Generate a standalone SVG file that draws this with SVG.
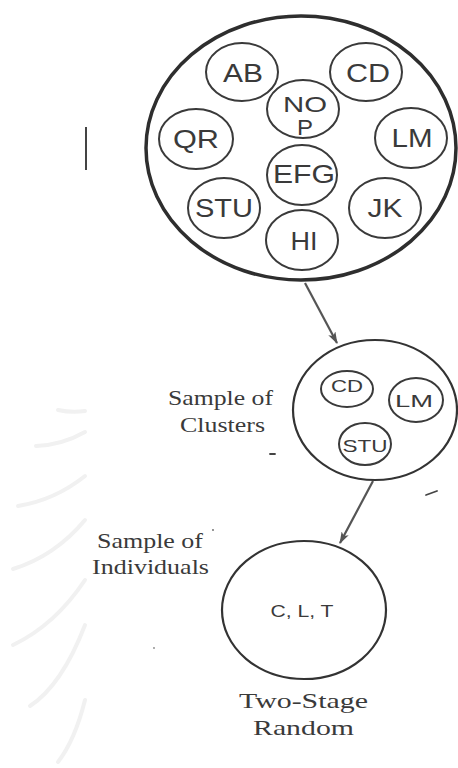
<svg xmlns="http://www.w3.org/2000/svg" width="458" height="768" viewBox="0 0 458 768">
<defs>
<style>
.bg{fill:#ffffff}
.wm{fill:none;stroke:#f1f1f1;stroke-width:4;stroke-linecap:round}
.outer{fill:none;stroke:#2e2e2e;stroke-width:3.5}
.cl{fill:none;stroke:#3a3a3a;stroke-width:2}
.big{fill:none;stroke:#333333;stroke-width:2.2}
.t{font-family:"Liberation Sans",Arial,sans-serif;fill:#3a3a3a;text-anchor:middle}
.t25{font-size:25px}
.t17{font-size:17px}
.s{font-family:"Liberation Serif","Times New Roman",serif;fill:#3a3a3a;font-size:22px}
.conn{fill:none;stroke:#555555;stroke-width:2.2}
.mark{fill:none;stroke:#444444;stroke-width:1.8;stroke-linecap:round}
</style>
<marker id="ah" viewBox="0 0 12 8" refX="11" refY="4" markerWidth="12" markerHeight="8" markerUnits="userSpaceOnUse" orient="auto">
<path d="M0,0 L12,4 L0,8 L3,4 Z" fill="#555555"/>
</marker>
</defs>
<rect class="bg" x="0" y="0" width="458" height="768"/>
<g id="watermark">
<path class="wm" d="M58,410 Q72,413 85,411"/>
<path class="wm" d="M36,446 Q62,445 85,432"/>
<path class="wm" d="M18,506 Q55,500 85,476"/>
<path class="wm" d="M13,569 Q55,556 85,520"/>
<path class="wm" d="M13,645 Q55,625 85,580"/>
<path class="wm" d="M30,706 Q62,685 85,625"/>
<path class="wm" d="M58,762 Q75,740 85,700"/>
</g>
<rect x="85" y="127" width="2" height="43" fill="#444444"/>
<g id="population">
<ellipse class="outer" cx="301" cy="148" rx="155" ry="132"/>
</g>
<g id="AB"><ellipse class="cl" cx="242" cy="72" rx="36" ry="29"/><text class="t t25" x="243" y="82" textLength="40" lengthAdjust="spacingAndGlyphs">AB</text></g>
<g id="CD"><ellipse class="cl" cx="366" cy="72" rx="36" ry="29"/><text class="t t25" x="368" y="82" textLength="44" lengthAdjust="spacingAndGlyphs">CD</text></g>
<g id="NOP"><ellipse class="cl" cx="303" cy="109" rx="36" ry="29"/><text class="t" font-size="22" x="305" y="112" textLength="44" lengthAdjust="spacingAndGlyphs">NO</text><text class="t" font-size="22" x="305" y="135" textLength="16" lengthAdjust="spacingAndGlyphs">P</text></g>
<g id="QR"><ellipse class="cl" cx="196" cy="139" rx="37" ry="30"/><text class="t t25" x="196" y="148" textLength="46" lengthAdjust="spacingAndGlyphs">QR</text></g>
<g id="LM"><ellipse class="cl" cx="411" cy="138" rx="36" ry="30"/><text class="t t25" x="412" y="147" textLength="41" lengthAdjust="spacingAndGlyphs">LM</text></g>
<g id="EFG"><ellipse class="cl" cx="302" cy="175" rx="35" ry="30"/><text class="t t25" x="304" y="183" textLength="62" lengthAdjust="spacingAndGlyphs">EFG</text></g>
<g id="STU"><ellipse class="cl" cx="224" cy="208" rx="36" ry="30"/><text class="t t25" x="224" y="217" textLength="58" lengthAdjust="spacingAndGlyphs">STU</text></g>
<g id="JK"><ellipse class="cl" cx="385" cy="208" rx="36" ry="30"/><text class="t t25" x="385" y="217" textLength="35" lengthAdjust="spacingAndGlyphs">JK</text></g>
<g id="HI"><ellipse class="cl" cx="302" cy="240" rx="36" ry="30"/><text class="t t25" x="304" y="250" textLength="27" lengthAdjust="spacingAndGlyphs">HI</text></g>
<g id="connectors">
<line class="conn" x1="305" y1="283" x2="337" y2="343" marker-end="url(#ah)"/>
<line class="conn" x1="373" y1="481" x2="340" y2="543" marker-end="url(#ah)"/>
</g>
<g id="clusters">
<ellipse class="big" cx="375" cy="410" rx="82" ry="70"/>
<ellipse class="cl" cx="347" cy="389" rx="26" ry="18"/><text class="t t17" x="347" y="392" textLength="32" lengthAdjust="spacingAndGlyphs">CD</text>
<ellipse class="cl" cx="416" cy="400" rx="27" ry="22"/><text class="t t17" x="414" y="407" textLength="38" lengthAdjust="spacingAndGlyphs">LM</text>
<ellipse class="cl" cx="365" cy="444" rx="26" ry="21"/><text class="t t17" x="365" y="452" textLength="45" lengthAdjust="spacingAndGlyphs">STU</text>
<text class="s" x="168" y="405" textLength="105" lengthAdjust="spacingAndGlyphs">Sample of</text>
<text class="s" x="180" y="432" textLength="85" lengthAdjust="spacingAndGlyphs">Clusters</text>
</g>
<g id="individuals">
<ellipse class="big" cx="304" cy="610" rx="82" ry="69"/>
<text class="t t17" x="302" y="617" textLength="63" lengthAdjust="spacingAndGlyphs">C, L, T</text>
<text class="s" x="97" y="548" textLength="106" lengthAdjust="spacingAndGlyphs">Sample of</text>
<text class="s" x="92" y="574" textLength="117" lengthAdjust="spacingAndGlyphs">Individuals</text>
</g>
<g id="caption">
<text class="s" x="239" y="708" font-size="24" textLength="129" lengthAdjust="spacingAndGlyphs">Two-Stage</text>
<text class="s" x="253" y="735" font-size="24" textLength="101" lengthAdjust="spacingAndGlyphs">Random</text>
</g>
<g id="marks">
<line class="mark" x1="270" y1="454" x2="275" y2="454"/>
<line class="mark" x1="426" y1="495" x2="437" y2="491"/>
<circle cx="213" cy="530" r="0.9" fill="#666666"/>
<circle cx="154" cy="648" r="0.9" fill="#888888"/>
</g>
</svg>
